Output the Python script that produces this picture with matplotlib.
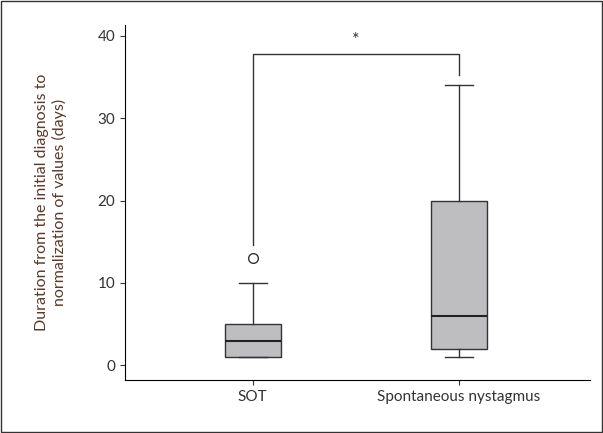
import matplotlib
matplotlib.use("Agg")
import matplotlib.pyplot as plt
from matplotlib.patches import Rectangle

categories = ["SOT", "Spontaneous nystagmus"]
whislo = [1, 1]
q1 = [1, 2]
med = [3, 6]
q3 = [5, 20]
whishi = [10, 34]
fliers = [[13], []]

plt.rcParams["font.family"] = "Lato"
fig = plt.figure(figsize=(6.03, 4.33), dpi=100)
ax = fig.add_axes([0.207, 0.122, 0.771, 0.82])
stats = [dict(label=c, whislo=a, q1=b, med=m, q3=d, whishi=e, fliers=f)
         for c, a, b, m, d, e, f in zip(categories, whislo, q1, med, q3, whishi, fliers)]
ax.bxp(stats, positions=[1, 2], widths=0.27, patch_artist=True,
       boxprops=dict(facecolor="#bebec0", edgecolor="#333333", linewidth=1),
       medianprops=dict(color="#222222", linewidth=1.5),
       whiskerprops=dict(color="#333333", linewidth=1),
       capprops=dict(color="#333333", linewidth=1),
       flierprops=dict(marker="o", markerfacecolor="white", markeredgecolor="#333333", markersize=7))
ax.set_xlim(0.379, 2.636)
ax.set_ylim(-1.8, 41.3)
ax.set_yticks([0, 10, 20, 30, 40])
ax.spines["top"].set_visible(False)
ax.spines["right"].set_visible(False)
ax.tick_params(colors="#333333", labelsize=11)
ax.set_ylabel("Duration from the initial diagnosis to\nnormalization of values (days)",
              fontsize=11.5, color="#5a3a2a", labelpad=22)
ax.plot([1, 1, 2, 2], [14.6, 37.8, 37.8, 35.3], color="#333333", linewidth=1)
ax.text(1.5, 38.5, "*", ha="center", va="bottom", fontsize=13, color="#333333")
fig.patches.append(Rectangle((0.002, 0.002), 0.996, 0.996, transform=fig.transFigure,
                             fill=False, edgecolor="#333333", linewidth=1))
fig.savefig("out.png", dpi=100)
